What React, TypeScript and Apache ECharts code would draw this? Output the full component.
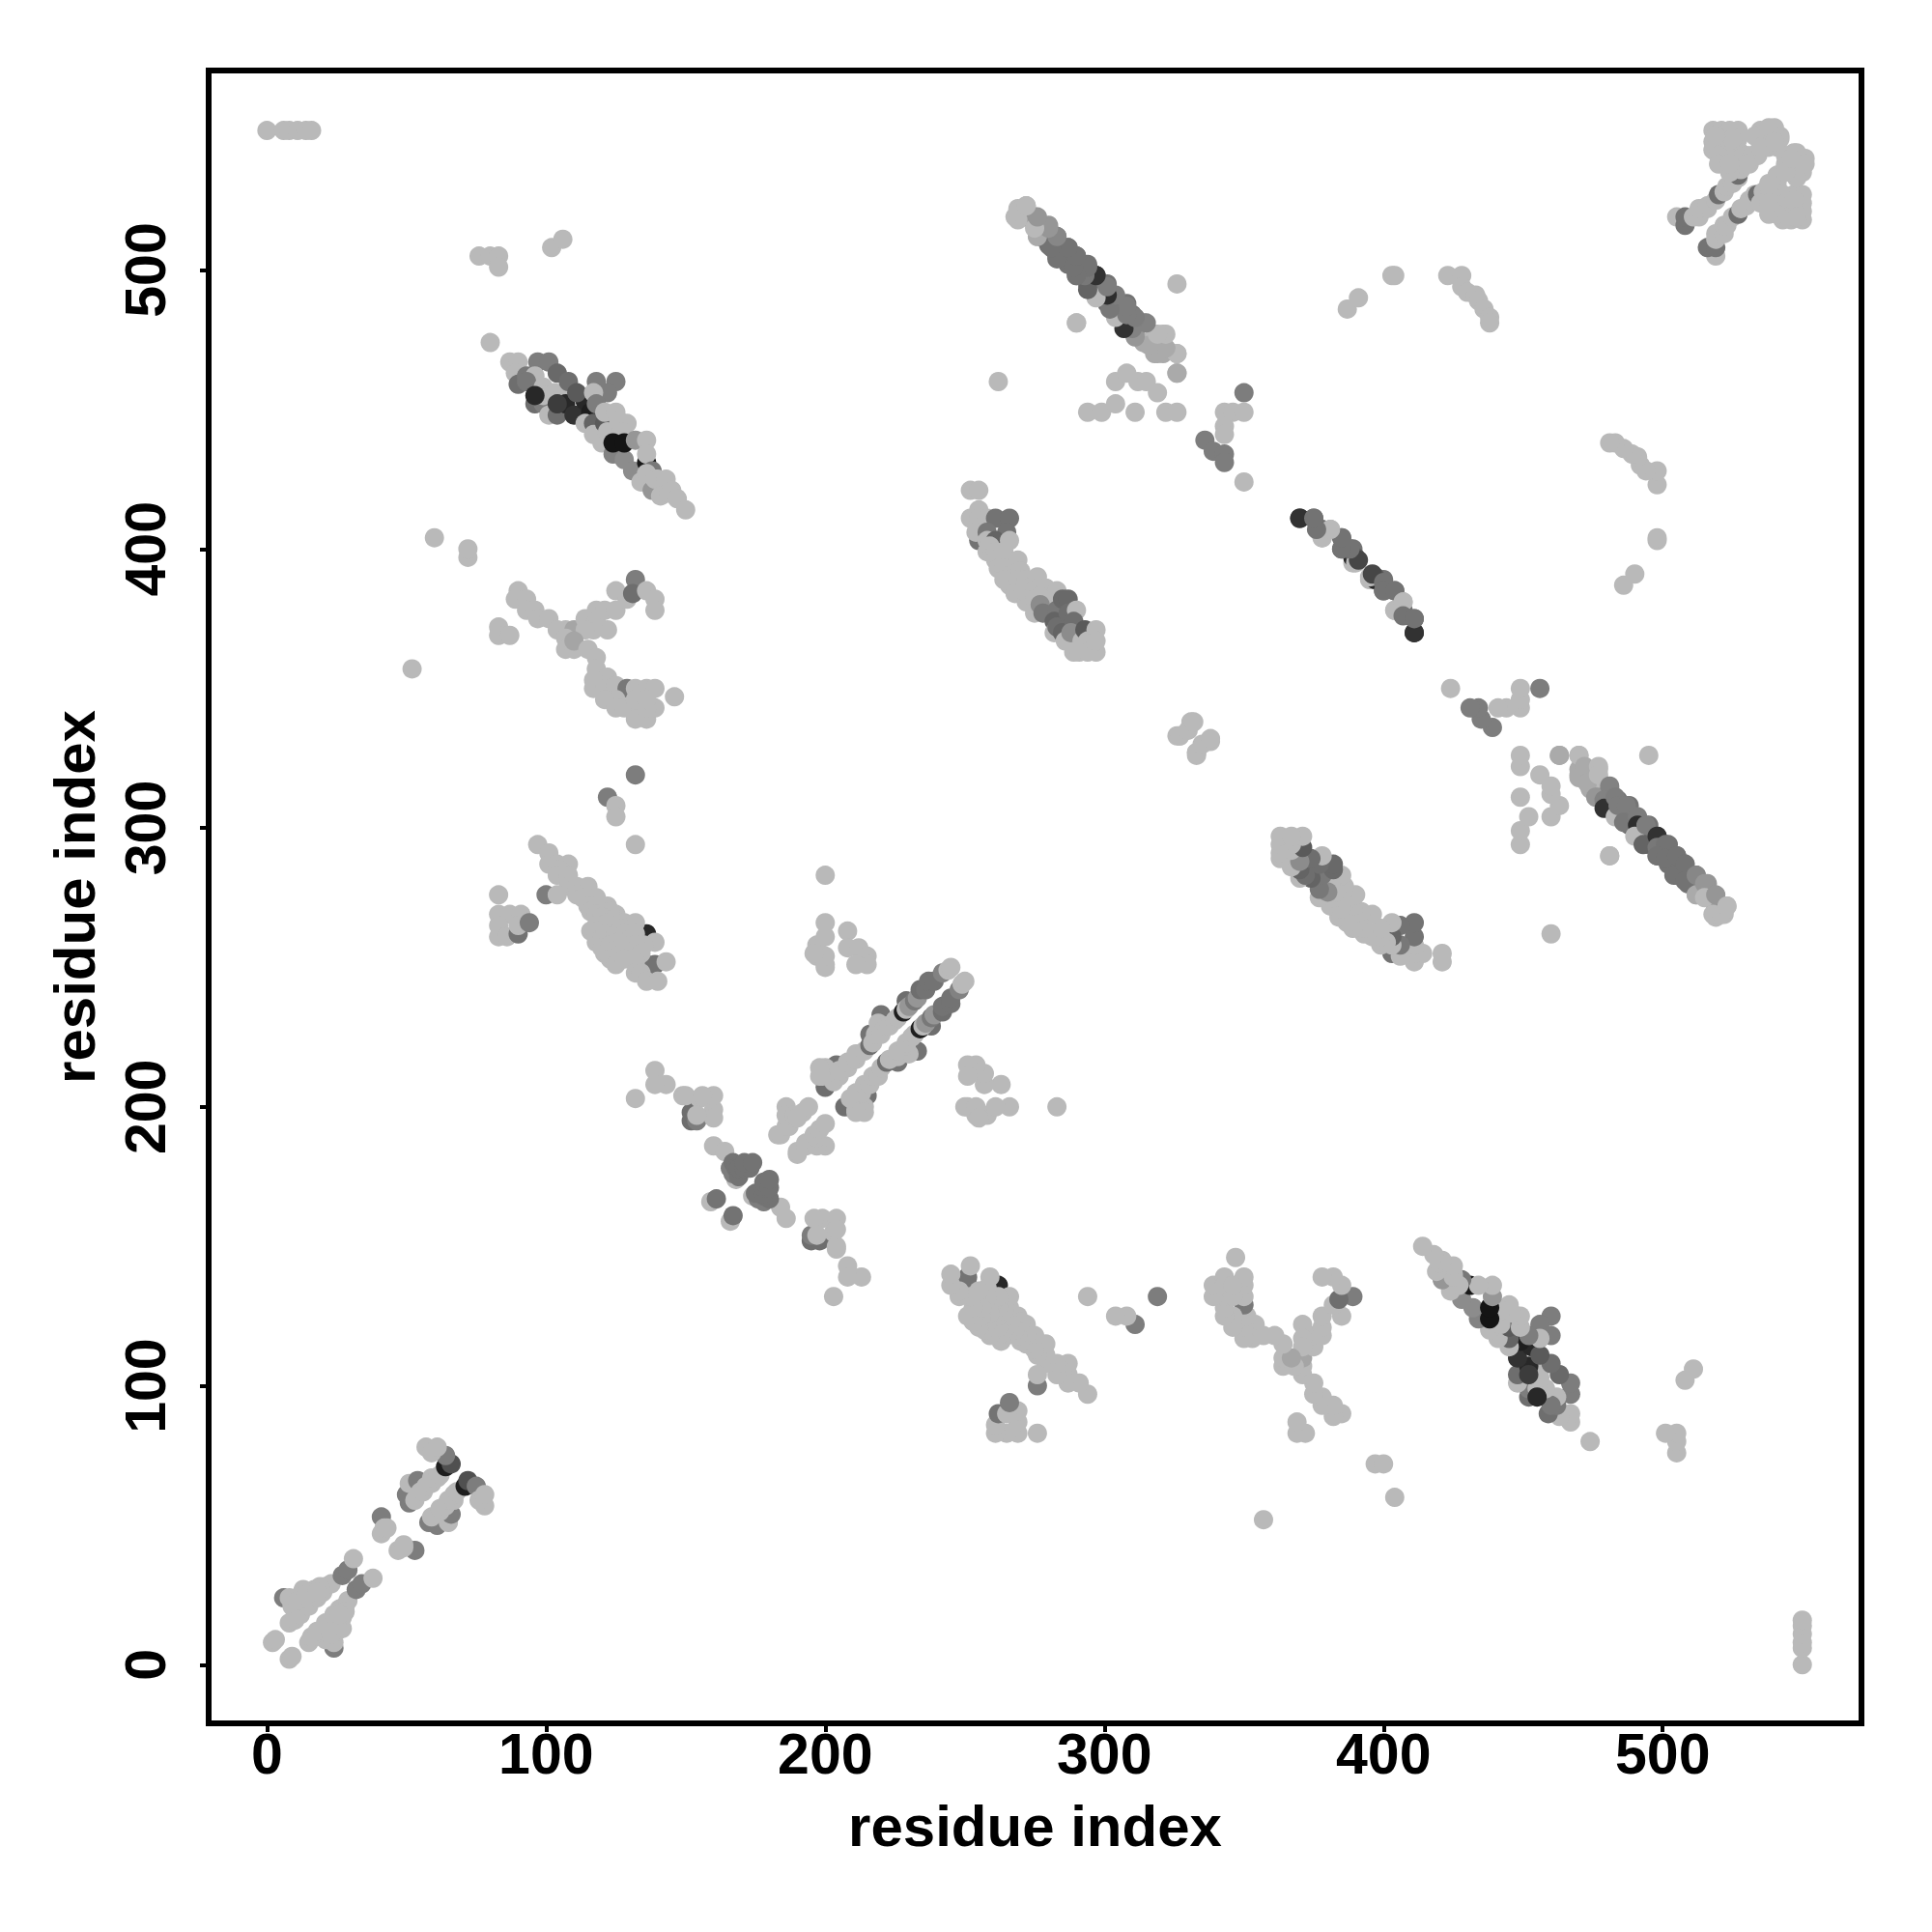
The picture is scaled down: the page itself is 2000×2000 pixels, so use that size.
import React, { useEffect, useRef } from "react";
import * as echarts from "echarts";

type C = [number, number, number];
const L = 185; // light grey level
const M = 125; // middle grey level

const tickValues = [0, 100, 200, 300, 400, 500];
const axisTitle = "residue index";

// Contacts of the upper triangle: [residue i, residue j, grey level]; the map is symmetric.
const nearDiagonalA: C[] = [
  [2,8,L],[3,9,L],[6,24,M],[8,24,L],[9,21,L],[13,21,L],[12,25,L],[16,26,L],[15,23,L],[17,27,L],[21,28,L],[8,15,L],[10,17,L],
  [10,16,L],[12,18,L],[15,21,L],[18,24,L],[20,26,L],[23,29,L],[13,27,L],[11,23,L],[14,25,L],[19,28,L],[18,26,L],
  [27,32,M],[29,34,M],[31,38,L],[41,53,M],[41,47,L],[42,49,L],[43,49,L],
  [51,58,M],[50,61,M],[51,65,L],[54,66,M],[55,62,L],[53,59,L],[56,62,L],[57,64,L],[59,65,L],[59,67,L],[61,67,L],[62,68,L],[64,71,30],[66,72,80],[64,75,M],[57,78,L],[59,76,L],[61,78,L],
];
const farCorner: C[] = [[0,550,L],[6,550,L],[8,550,L],[11,550,L],[14,550,L],[16,550,L]];
const isolated: C[] = [
  [52,357,L],[60,404,L],[72,397,L],[72,400,L],[80,474,L],[76,505,L],[80,505,L],[83,505,L],[83,501,L],[102,508,L],[106,511,L],
  [262,460,L],[290,481,L],[326,495,L],[132,319,M],[122,311,M],[125,308,L],[125,304,L],[132,294,L],
  [326,333,L],[331,338,L],[327,333,L],[333,327,L],[335,330,L],[338,332,L],
  [387,486,L],[391,490,L],[403,498,L],[404,498,L],
  [132,203,L],[143,208,L],[139,213,L],[139,208,L],
];
const bandC: C[] = [
  [87,467,L],[90,467,L],[89,463,L],[90,459,110],[93,462,120],[97,467,M],[101,467,M],[96,462,L],[104,463,105],[93,460,120],
  [96,452,110],[99,452,M],[101,448,L],[99,458,L],[99,455,L],[104,448,110],[103,456,L],[106,456,L],
  [96,455,40],[107,452,40],[110,448,50],[114,453,40],[116,449,30],[104,452,60],
  [108,460,110],[111,456,90],[118,460,M],[125,460,M],[122,456,M],[117,456,L],[118,452,M],
  [114,445,L],[117,445,100],[117,441,L],[120,438,L],[121,445,90],[121,449,L],[125,449,L],[129,445,L],[122,442,L],[126,446,L],
  [124,434,130],[128,432,140],[131,428,140],[127,442,L],
  [124,438,20],[128,438,20],[136,431,25],[132,439,150],[136,439,L],[136,434,L],
  [138,428,120],[134,424,L],[138,421,150],[136,427,L],[139,425,L],[140,425,L],[143,425,L],[141,419,L],[144,420,L],[145,421,L],[147,418,L],[150,414,L],
];
const bandD: C[] = [
  [90,385,L],[89,382,L],[93,382,L],[93,378,L],[96,378,L],[97,375,L],[101,375,L],[104,371,L],[107,371,L],[110,371,165],[114,375,L],
  [118,378,L],[118,374,L],[121,378,L],[125,378,L],[125,385,L],[129,382,L],[132,389,M],[131,384,110],[136,385,L],[139,382,L],[139,378,L],
  [122,371,L],[117,371,L],[114,371,L],[83,372,L],[83,369,L],[87,369,L],
  [107,368,L],[107,364,L],[110,364,L],[110,367,165],[115,364,L],[118,361,L],[118,357,L],[122,354,L],[117,353,L],[117,350,L],[121,350,L],
  [125,351,L],[129,350,120],[132,350,L],[136,350,L],[139,350,L],[125,346,L],[121,346,L],[125,343,L],[128,343,L],[132,343,L],[132,339,L],
  [136,339,L],[139,343,L],[136,343,L],[146,347,L],[132,346,L],[136,346,L],
];
const bandE: C[] = [
  [136,262,40],[136,251,115],[139,251,115],[130,255,115],
  [97,294,L],[101,291,L],[101,287,L],[104,287,L],[108,287,L],[105,285,L],[104,283,L],[108,283,L],[108,279,L],[111,279,L],[115,279,L],[111,276,L],[113,275,L],[118,275,L],
  [115,272,L],[122,272,L],[118,272,L],[116,270,L],[118,269,L],[125,269,L],[121,269,L],[123,270,L],[120,268,L],[118,265,L],[121,265,L],[122,266,L],[125,265,L],[128,266,L],[132,266,L],
  [116,263,L],[118,262,L],[118,259,L],[120,260,L],[121,262,L],[125,262,L],[127,264,L],[128,262,L],[130,260,L],[132,262,L],[139,259,L],[135,258,L],[132,258,L],[120,257,L],[123,258,L],[126,259,L],[121,255,L],[125,256,L],
  [123,253,L],[125,251,L],[128,256,L],[128,253,L],[134,255,L],[132,252,L],[132,248,L],[134,248,L],[136,245,L],[140,245,L],[143,252,L],
  [83,276,L],[83,269,L],[87,269,L],[91,269,L],[83,265,L],[83,261,L],[86,261,L],[90,262,115],[90,265,L],[94,266,M],[100,276,M],[104,276,L],
];
const bandF: C[] = [
  [160,186,L],[164,184,L],[168,174,L],[166,178,M],[167,176,M],[167,180,115],[168,178,115],[169,175,115],[169,178,115],[171,178,115],[173,178,115],[171,180,115],[174,180,115],
  [159,166,L],[161,167,115],
  [183,190,L],[184,190,L],[186,193,L],[187,193,L],[186,200,L],[186,197,L],[189,197,L],[190,196,L],[192,198,L],[194,200,L],
  [200,207,110],[203,210,110],[204,215,115],[202,212,110],[200,214,L],[199,211,L],[198,214,L],[198,211,L],[207,214,M],
  [203,209,L],[205,211,L],[205,213,L],[208,214,L],[208,216,L],[211,217,L],[211,219,L],[214,220,L],
  [216,222,110],[216,226,115],[220,233,115],[217,223,L],[219,230,L],[218,226,L],[220,226,L],[222,229,L],[223,229,L],[225,231,L],[226,232,L],[228,234,30],[229,238,110],[229,235,L],
  [230,236,150],[232,238,120],[233,239,150],[234,242,110],[236,242,115],[237,245,115],[239,245,115],[242,248,130],[244,249,L],[245,250,L],
];
const bandG: C[] = [
  [200,283,L],[200,266,L],[197,258,L],[197,254,L],[200,261,L],[200,251,L],[208,263,L],[208,257,L],[212,257,L],[215,254,L],[215,251,L],[211,251,L],
  [200,250,L],[200,254,L],[196,255,L],
];
const bandH: C[] = [
  [152,195,110],[152,198,110],[154,195,M],[159,203,L],[160,199,L],[160,196,L],[149,204,L],[155,203,L],[150,204,L],[154,197,L],[160,204,L],[156,204,L],
];
const bandK: C[] = [
  [269,522,L],[272,523,L],[268,519,L],[275,519,150],[272,519,150],[276,512,L],[276,516,L],[280,516,150],[279,511,120],[283,512,120],[280,509,115],
  [283,508,115],[287,508,115],[283,505,115],[287,502,115],[290,505,115],[290,498,115],[294,502,115],[294,495,115],[297,498,45],[297,491,L],[297,495,115],
  [301,495,115],[299,490,50],[301,488,110],[304,484,L],[304,490,115],[305,487,110],[308,488,115],[308,481,60],[310,484,115],[311,477,115],[314,481,150],
  [314,474,170],[318,470,170],[321,470,170],[318,477,L],[321,477,L],[326,470,L],[326,463,170],[290,481,L],
];
const bandKLow: C[] = [
  [294,449,L],[299,449,L],[304,452,L],[304,460,L],[308,463,L],[311,449,L],[312,460,L],[315,460,L],[319,456,L],[322,449,L],[326,449,L],
  [350,456,M],[343,449,L],[346,449,L],[350,449,L],[343,444,L],[343,441,L],[336,439,M],[339,435,M],[343,434,M],[343,431,M],[350,424,L],
];
const bandArc: C[] = [
  [423,498,L],[428,498,L],[428,494,L],[430,492,L],[433,491,L],[434,489,L],[436,486,L],[438,483,L],[438,481,L],
];
const bandL: C[] = [
  [252,421,L],[255,421,L],[255,414,L],[252,411,L],[255,411,L],[255,403,115],[254,406,L],[258,411,L],[261,411,115],[266,411,115],[258,406,120],
  [265,406,115],[258,403,L],[261,403,100],[258,399,L],[259,401,L],[261,399,L],[266,403,L],[261,396,L],[264,399,L],[269,396,L],[262,393,L],[264,393,L],[267,391,L],[270,392,L],[264,389,L],
  [266,387,L],[269,389,L],[268,384,L],[272,389,L],[276,390,L],[273,386,L],[272,381,L],[271,385,L],[275,385,L],[275,377,L],[279,386,L],[283,385,L],[275,382,L],[277,383,L],[280,381,L],
  [277,380,140],[278,377,120],[283,378,120],[282,374,100],[285,382,105],[282,370,L],[287,382,105],[285,374,100],[283,372,110],[285,370,100],[287,377,110],[290,378,L],[289,374,110],[286,367,L],
  [288,370,140],[289,363,L],[291,363,L],[292,367,L],[293,371,90],[294,367,L],[294,363,L],[297,363,L],[297,371,L],[297,367,L],
];
const bandM: C[] = [
  [370,411,50],[375,411,110],[378,404,L],[378,407,110],[381,407,L],[385,404,115],[385,400,115],[389,395,L],[389,397,40],[389,400,115],[390,397,90],
  [395,390,L],[396,391,70],[400,388,115],[400,385,115],[404,385,115],[404,378,L],[407,381,L],[407,376,115],[411,370,50],[411,375,115],
];
const bandN: C[] = [
  [505,519,L],[508,516,115],[508,519,115],[511,519,L],[513,519,L],[513,522,L],[516,522,L],[516,523,L],[519,525,L],[520,527,110],[522,528,L],[523,530,L],[525,531,L],[527,533,L],[527,534,110],[526,537,L],[523,538,L],[531,538,L],
  [526,541,L],[521,544,140],[518,546,L],[518,550,L],[521,550,L],[524,550,L],[527,550,L],[519,547,L],[527,547,L],[521,547,L],[524,544,L],[523,544,L],[526,544,L],[518,543,L],[527,543,L],[523,541,L],[528,540,L],
  [520,541,L],[530,541,L],[520,538,L],[528,536,L],[524,535,L],[532,541,L],[534,541,L],
  [525,547,L],[519,548,L],[535,550,L],[539,548,L],[542,548,L],[536,547,L],[538,544,L],[542,547,L],[537,544,L],[541,544,L],[530,538,L],[524,538,L],[533,548,L],[535,544,L],[540,551,L],[538,551,L],[540,546,L],
];
const bandO: C[] = [
  [463,326,170],[470,326,L],[470,319,170],[472,322,170],[477,322,L],[473,316,170],[477,319,L],[476,311,150],[481,315,130],[479,310,130],[479,307,50],
  [483,311,M],[483,304,L],[484,308,M],[487,308,M],[486,302,120],[491,304,M],[491,301,45],[490,297,L],[494,301,M],[493,294,100],[498,297,50],
  [498,293,120],[501,294,115],[498,290,115],[501,289,115],[505,290,115],[504,283,115],[508,287,115],[508,281,115],[512,283,135],[512,276,170],
  [515,280,150],[515,275,L],[519,276,150],[518,269,L],[521,269,L],[523,272,L],
];

const contacts: C[] = [
  ...nearDiagonalA, ...farCorner, ...isolated, ...bandC, ...bandD, ...bandE, ...bandF, ...bandG, ...bandH,
  ...bandK, ...bandKLow, ...bandArc, ...bandL, ...bandM, ...bandN, ...bandO,
];

const grey = (g: number) => `rgb(${g},${g},${g})`;
const points = contacts.flatMap(([i, j, g]) => [
  { value: [i, j], itemStyle: { color: grey(g) } },
  { value: [j, i], itemStyle: { color: grey(g) } },
]);

const FONT = "Liberation Sans";

export default function App() {
  const ref = useRef<HTMLDivElement>(null);
  useEffect(() => {
    const chart = echarts.init(ref.current!, null, { renderer: "svg" });
    const axisBase = {
      type: "value",
      splitLine: { show: false },
      axisLine: { show: false, onZero: false },
      axisTick: { show: true, length: 9, inside: false, customValues: tickValues, lineStyle: { color: "#000", width: 4 } },
      name: axisTitle,
      nameLocation: "middle",
      nameTextStyle: { fontFamily: FONT, fontWeight: "bold", fontSize: 60, color: "#000" },
    };
    const labelBase = { customValues: tickValues, fontFamily: FONT, fontWeight: "bold", fontSize: 59, color: "#000" };
    chart.setOption({
      animation: false,
      backgroundColor: "#fff",
      grid: { show: true, left: 216, top: 73, width: 1711, height: 1711, borderColor: "#000", borderWidth: 6, backgroundColor: "transparent" },
      xAxis: { ...axisBase, min: -20.87, max: 571.2, nameGap: 76, axisLabel: { ...labelBase, margin: 2 } },
      yAxis: { ...axisBase, min: -21, max: 571.5, nameGap: 109, axisLabel: { ...labelBase, rotate: 90, margin: 36 } },
      series: [{ type: "scatter", symbol: "circle", symbolSize: 20, data: points, itemStyle: { opacity: 1 }, clip: false }],
    });
    return () => chart.dispose();
  }, []);
  return <div ref={ref} style={{ position: "absolute", left: 0, top: 0, width: 2000, height: 2000 }} />;
}
